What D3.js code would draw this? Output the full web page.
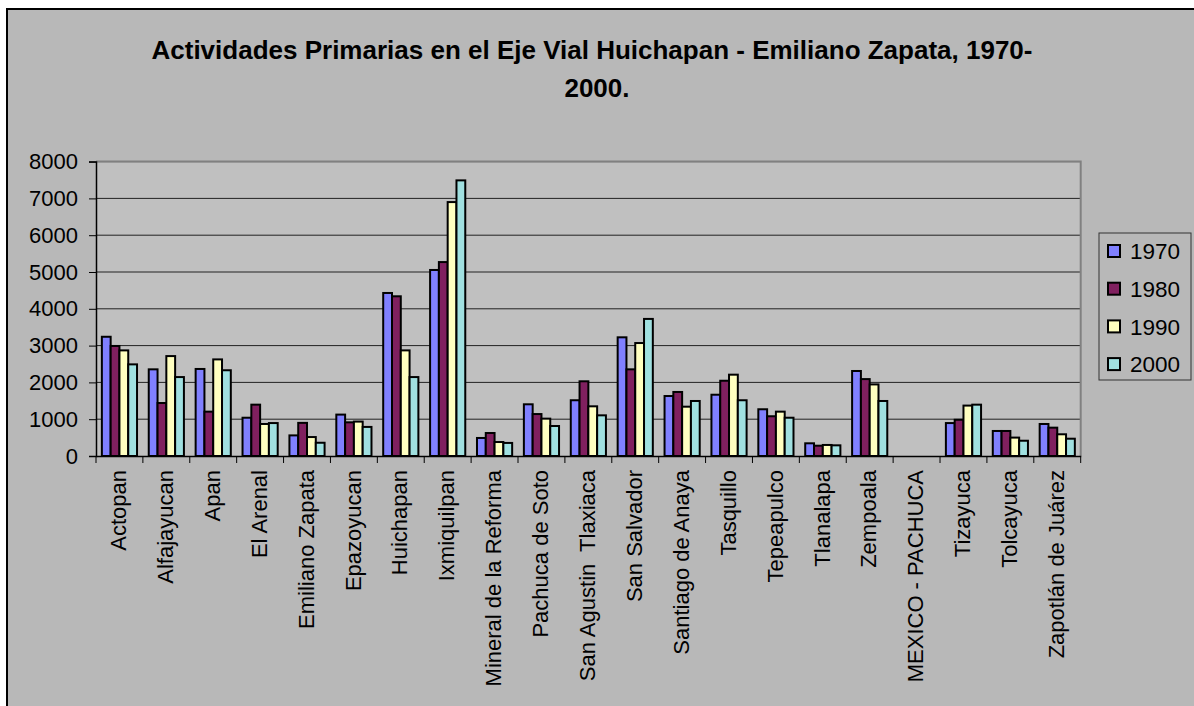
<!DOCTYPE html>
<html lang="es">
<head>
<meta charset="utf-8">
<script src="https://d3js.org/d3.v7.min.js"></script>
<style>
  body { margin: 0; background: #fff; }
  text { font-family: Arial, "Liberation Sans", sans-serif; fill: #000; }
</style>
</head>
<body>
<svg width="1194" height="706"></svg>
<script>
// municipios (eje x)
var categories = ["Actopan", "Alfajayucan", "Apan", "El Arenal", "Emiliano Zapata",
  "Epazoyucan", "Huichapan", "Ixmiquilpan", "Mineral de la Reforma", "Pachuca de Soto",
  "San Agustin  Tlaxiaca", "San Salvador", "Santiago de Anaya", "Tasquillo", "Tepeapulco",
  "Tlanalapa", "Zempoala", "MEXICO - PACHUCA", "Tizayuca", "Tolcayuca", "Zapotlán de Juárez"];

var years = ["1970", "1980", "1990", "2000"];

// poblacion en actividades primarias
var v1970 = [3240, 2355, 2365, 1040, 560, 1125, 4430, 5055, 490, 1405, 1515, 3225, 1630, 1665, 1270, 345, 2310, 0, 895, 680, 870];
var v1980 = [2990, 1440, 1205, 1395, 900, 915, 4340, 5270, 625, 1140, 2030, 2355, 1740, 2045, 1080, 280, 2090, 0, 985, 680, 770];
var v1990 = [2870, 2715, 2625, 870, 515, 935, 2870, 6900, 380, 1015, 1350, 3070, 1340, 2210, 1205, 300, 1945, 0, 1370, 500, 590];
var v2000 = [2490, 2145, 2330, 895, 360, 790, 2145, 7490, 355, 815, 1105, 3725, 1495, 1515, 1040, 290, 1495, 0, 1395, 415, 470];

var yTicks = [0, 1000, 2000, 3000, 4000, 5000, 6000, 7000, 8000];
var colors = ["#8080ff", "#80205f", "#ffffc0", "#a0e0e0"];

var series = [v1970, v1980, v1990, v2000];

var svg = d3.select("svg");

// marco exterior
svg.append("rect")
   .attr("x", 7).attr("y", 9)
   .attr("width", 1200).attr("height", 710)
   .attr("fill", "#b8b8b8")
   .attr("stroke", "#000")
   .attr("stroke-width", 2);

// titulo
var title = svg.append("text")
   .attr("text-anchor", "middle")
   .attr("font-size", "26px")
   .attr("font-weight", "bold");
title.append("tspan").attr("x", 592).attr("y", 59)
   .text("Actividades Primarias en el Eje Vial Huichapan - Emiliano Zapata, 1970-");
title.append("tspan").attr("x", 597).attr("y", 97).text("2000.");

var plotL = 96, plotR = 1080.7, plotT = 161.6, plotB = 456;

var x = d3.scaleBand().domain(categories).range([plotL, plotR]);
var x1 = d3.scaleBand().domain(years).range([0, x.bandwidth() * 0.75]);
var y = d3.scaleLinear().domain([0, 8000]).range([plotB, plotT]);

// area de trazado
svg.append("rect")
   .attr("x", plotL).attr("y", plotT)
   .attr("width", plotR - plotL).attr("height", plotB - plotT)
   .attr("fill", "#c0c0c0");

// lineas de division
svg.append("g")
   .selectAll("line")
   .data(yTicks.slice(1))
   .enter().append("line")
   .attr("x1", plotL).attr("x2", plotR)
   .attr("y1", function(d) { return y(d); })
   .attr("y2", function(d) { return y(d); })
   .attr("stroke", "#222")
   .attr("stroke-width", 1);

// borde gris superior y derecho
svg.append("path")
   .attr("d", "M" + plotL + "," + plotT + "H" + plotR + "V" + plotB)
   .attr("fill", "none")
   .attr("stroke", "#808080")
   .attr("stroke-width", 2);

// barras
var groups = svg.append("g")
   .selectAll("g")
   .data(categories)
   .enter().append("g")
   .attr("transform", function(d) { return "translate(" + (x(d) + x.bandwidth() * 0.125) + ",0)"; });

groups.selectAll("rect")
   .data(function(d, i) { return series.map(function(s, k) { return { year: years[k], value: s[i], k: k }; }); })
   .enter().append("rect")
   .filter(function(d) { return d.value > 0; })
   .attr("x", function(d) { return x1(d.year); })
   .attr("y", function(d) { return y(d.value); })
   .attr("width", x1.bandwidth())
   .attr("height", function(d) { return plotB - y(d.value); })
   .attr("fill", function(d) { return colors[d.k]; })
   .attr("stroke", "#000")
   .attr("stroke-width", 2);

// eje y
var yAxis = svg.append("g")
   .attr("transform", "translate(" + plotL + ",0)")
   .call(d3.axisLeft(y).tickValues(yTicks).tickSize(7).tickPadding(11).tickFormat(d3.format("d")));
yAxis.select(".domain").attr("stroke", "#000").attr("stroke-width", 1.5);
yAxis.selectAll(".tick line").attr("stroke", "#000");
yAxis.selectAll("text").attr("font-size", "22px").attr("font-family", "Arial, 'Liberation Sans', sans-serif");

// eje x
var xAxis = svg.append("g")
   .attr("transform", "translate(0," + plotB + ")")
   .call(d3.axisBottom(x).tickSize(0).tickFormat(""));
xAxis.select(".domain").attr("stroke", "#000").attr("stroke-width", 1.5);

svg.append("g")
   .selectAll("line")
   .data(d3.range(categories.length + 1))
   .enter().append("line")
   .attr("x1", function(i) { return plotL + i * x.step(); })
   .attr("x2", function(i) { return plotL + i * x.step(); })
   .attr("y1", plotB).attr("y2", plotB + 7)
   .attr("stroke", "#000");

svg.append("g")
   .selectAll("text")
   .data(categories)
   .enter().append("text")
   .attr("transform", function(d) { return "translate(" + (x(d) + x.bandwidth() / 2 - 1) + "," + (plotB + 14) + ") rotate(-90)"; })
   .attr("dy", "0.35em")
   .attr("text-anchor", "end")
   .attr("font-size", "22px")
   .attr("xml:space", "preserve")
   .text(function(d) { return d; });

// leyenda
var legend = svg.append("g");
legend.append("rect")
   .attr("x", 1099).attr("y", 233)
   .attr("width", 92).attr("height", 147)
   .attr("fill", "#b8b8b8")
   .attr("stroke", "#333")
   .attr("stroke-width", 1);

var items = legend.selectAll(".item")
   .data(years)
   .enter().append("g")
   .attr("transform", function(d, i) { return "translate(1108," + (251 + i * 37.7) + ")"; });

items.append("rect")
   .attr("x", 0).attr("y", -6)
   .attr("width", 12).attr("height", 12)
   .attr("fill", function(d, i) { return colors[i]; })
   .attr("stroke", "#000")
   .attr("stroke-width", 2);

items.append("text")
   .attr("x", 22).attr("dy", "0.36em")
   .attr("font-size", "22.5px")
   .text(function(d) { return d; });
</script>
</body>
</html>
